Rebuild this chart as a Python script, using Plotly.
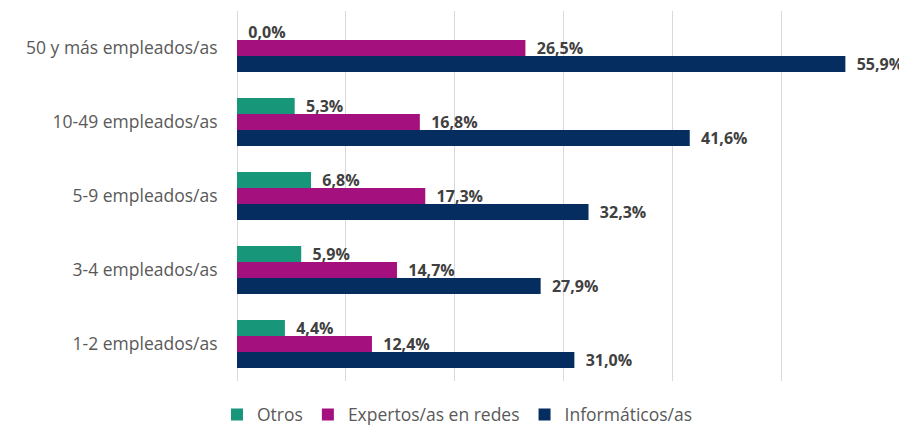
import plotly.graph_objects as go

categories = ["50 y más empleados/as", "10-49 empleados/as", "5-9 empleados/as",
              "3-4 empleados/as", "1-2 empleados/as"]
otros = [0.0, 5.3, 6.8, 5.9, 4.4]
expertos = [26.5, 16.8, 17.3, 14.7, 12.4]
informaticos = [55.9, 41.6, 32.3, 27.9, 31.0]

series = [
    ("Otros", otros, "#17967a"),
    ("Expertos/as en redes", expertos, "#a5107f"),
    ("Informáticos/as", informaticos, "#062d5f"),
]

fig = go.Figure()
for name, vals, col in series:
    fig.add_trace(go.Bar(
        y=categories, x=vals, name=name, orientation="h",
        marker=dict(color=col, line=dict(width=0)),
        texttemplate="  %{x:.1f}%", textposition="outside",
        textfont=dict(size=16, color="#404040", family="Open Sans, sans-serif", weight="bold"),
        cliponaxis=False, constraintext="none",
    ))

# page body has an 8px default margin, so the figure is offset by 8px
fig.update_layout(
    width=899, height=420,
    margin=dict(l=229, r=17, t=3, b=47, autoexpand=False),
    paper_bgcolor="white", plot_bgcolor="white",
    barmode="group", bargap=0.35, bargroupgap=0,
    separators=",.",
    font=dict(family="Open Sans, sans-serif", color="#595959", size=17.5),
    xaxis=dict(range=[0, 60], dtick=10, showticklabels=False, showgrid=True,
               gridcolor="#d9d9d9", gridwidth=1, zeroline=True, zerolinecolor="#d9d9d9",
               zerolinewidth=1, fixedrange=True, automargin=False),
    yaxis=dict(autorange="reversed", showgrid=False, ticks="outside", ticklen=0,
               tickcolor="white", ticklabelstandoff=15, automargin=False,
               tickfont=dict(size=17.5, color="#595959")),
    legend=dict(orientation="h", xref="container", x=0.5, xanchor="center",
                yref="paper", y=-0.042, yanchor="top",
                font=dict(size=17.5, color="#595959"), itemwidth=30,
                traceorder="normal"),
    showlegend=True,
)

fig.write_html("out.html")
